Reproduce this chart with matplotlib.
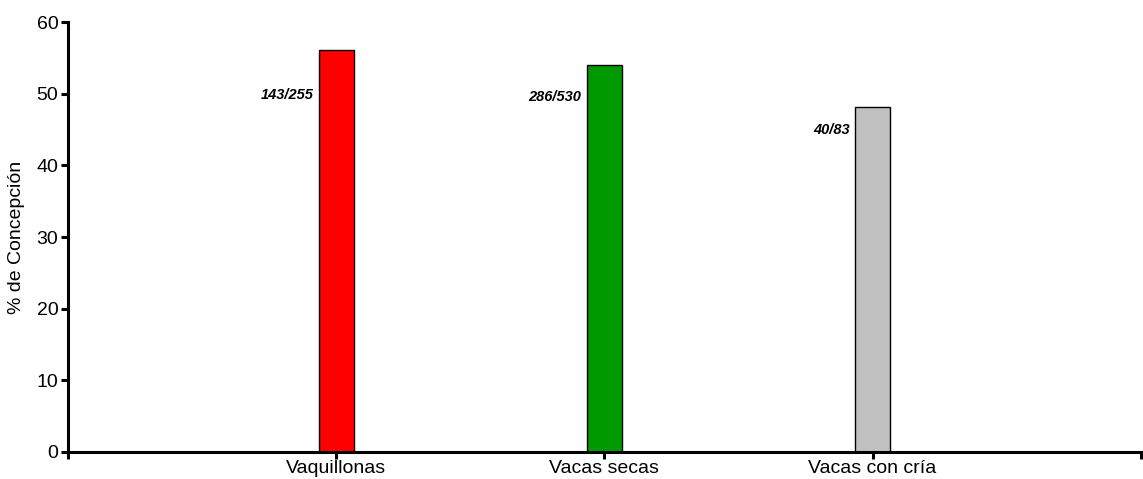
import matplotlib
matplotlib.use("Agg")
import matplotlib.pyplot as plt

categories = ["Vaquillonas", "Vacas secas", "Vacas con cría"]
pregnant = [143, 286, 40]
served = [255, 530, 83]
colors = ["#ff0000", "#009900", "#c0c0c0"]
y_ticks = [0, 10, 20, 30, 40, 50, 60]
label_y = [49.8, 49.6, 44.9]

values = [100.0 * p / s for p, s in zip(pregnant, served)]

plt.rcParams['font.family'] = ['Liberation Sans', 'DejaVu Sans']

fig = plt.figure(figsize=(11.43, 4.79), dpi=100)
ax = fig.add_axes([0.0595, 0.0564, 0.9385, 0.8976])

x = [1, 2, 3]
ax.bar(x, values, width=0.13, color=colors, edgecolor="black", linewidth=1.0, zorder=2)

for xi, ly, p, s in zip(x, label_y, pregnant, served):
    ax.text(xi - 0.085, ly, f"{p}/{s}", ha="right", va="center",
            fontsize=10.5, fontstyle="italic", fontweight="bold")

ax.set_xlim(0, 4)
ax.set_ylim(0, 60)
ax.set_yticks(y_ticks)
ax.set_xticks(x)
ax.set_xticklabels(categories)
ax.set_xticks([0, 4], minor=True)
ax.tick_params(axis="x", which="minor", length=5, width=2.2, direction="out")

for s in ["top", "right"]:
    ax.spines[s].set_visible(False)
for s in ["left", "bottom"]:
    ax.spines[s].set_linewidth(2.2)

ax.tick_params(axis="both", which="major", labelsize=14, length=5, width=2.2, direction="out", pad=2)
ax.tick_params(axis="x", pad=1)
ax.set_ylabel("% de Concepción", fontsize=14, labelpad=8)

fig.savefig("out.png", dpi=100)
